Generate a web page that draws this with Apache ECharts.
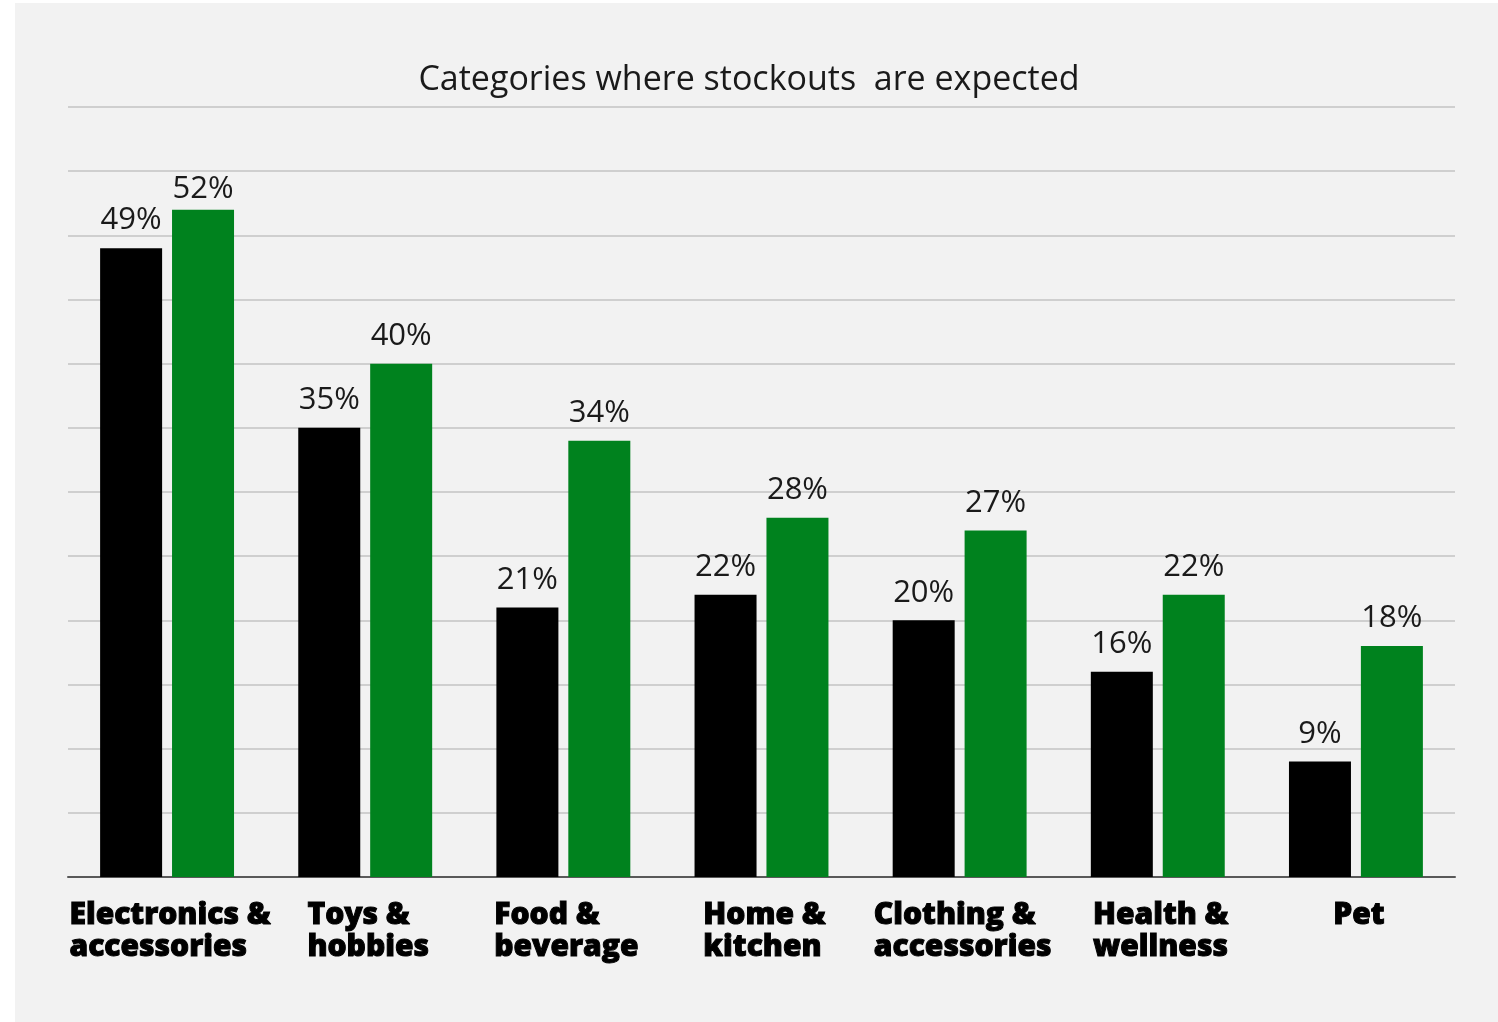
<!DOCTYPE html>
<html>
<head>
<meta charset="utf-8">
<title>Categories where stockouts are expected</title>
<script src="https://cdn.jsdelivr.net/npm/echarts@6/dist/echarts.min.js"></script>
<style>
  html, body { margin: 0; padding: 0; background: #ffffff; }
  #panel { position: absolute; left: 15px; top: 3px; width: 1483px; height: 1019px; background: #f2f2f2; }
  #chart { position: absolute; left: 0; top: 0; width: 1498px; height: 1022px; }
</style>
</head>
<body>
<div id="panel"></div>
<div id="chart"></div>
<script>
// Share of respondents expecting stockouts, by product category
const categories = [
  'Electronics &\naccessories',
  'Toys &\nhobbies',
  'Food &\nbeverage',
  'Home &\nkitchen',
  'Clothing &\naccessories',
  'Health &\nwellness',
  'Pet'
];
const seriesA = [49, 35, 21, 22, 20, 16, 9];
const seriesB = [52, 40, 34, 28, 27, 22, 18];

const valueAxisMax = 60;
const valueAxisStep = 5;

const chart = echarts.init(document.getElementById('chart'), null, { renderer: 'canvas' });

const labelStyle = {
  show: true,
  position: 'top',
  distance: 12,
  formatter: p => p.value + '%',
  fontFamily: 'Open Sans',
  fontSize: 31,
  color: '#1a1a1a'
};

// The tallest value label sits a little closer to its bar.
const peak = Math.max(...seriesA, ...seriesB);
const toItems = arr => arr.map(v => v === peak ? { value: v, label: { distance: 5 } } : v);

chart.setOption({
  backgroundColor: 'transparent',
  animation: false,
  title: {
    text: 'Categories where stockouts  are expected',
    left: 'center',
    top: 58,
    textStyle: {
      fontFamily: 'Open Sans',
      fontWeight: 'normal',
      fontSize: 34,
      color: '#1a1a1a'
    }
  },
  grid: { left: 68, right: 43, top: 107, bottom: 145, containLabel: false },
  xAxis: {
    type: 'category',
    data: categories,
    axisLine: { show: true, lineStyle: { color: '#595959', width: 2 } },
    axisTick: { show: false },
    axisLabel: {
      margin: 22,
      interval: 0,
      // each line starts at the same left edge inside a centred block
      formatter: v => v.split('\n').map(l => '{a|' + l + '}').join('\n'),
      rich: {
        a: {
          align: 'left',
          padding: [0, 0, 0, 6],
          fontFamily: 'Open Sans',
          fontWeight: 800,
          fontSize: 30,
          lineHeight: 32,
          color: '#000000',
          textBorderColor: '#000000',
          textBorderWidth: 1
        }
      }
    }
  },
  yAxis: {
    type: 'value',
    min: 0,
    max: valueAxisMax,
    interval: valueAxisStep,
    axisLine: { show: false },
    axisTick: { show: false },
    axisLabel: { show: false },
    splitLine: { show: true, lineStyle: { color: '#cfcfcf', width: 2 } }
  },
  series: [
    {
      type: 'bar',
      data: toItems(seriesA),
      barWidth: 62,
      barGap: '16%',
      itemStyle: { color: '#000000' },
      label: labelStyle
    },
    {
      type: 'bar',
      data: toItems(seriesB),
      barWidth: 62,
      barGap: '16%',
      itemStyle: { color: '#00821e' },
      label: labelStyle
    }
  ]
});
</script>
</body>
</html>
